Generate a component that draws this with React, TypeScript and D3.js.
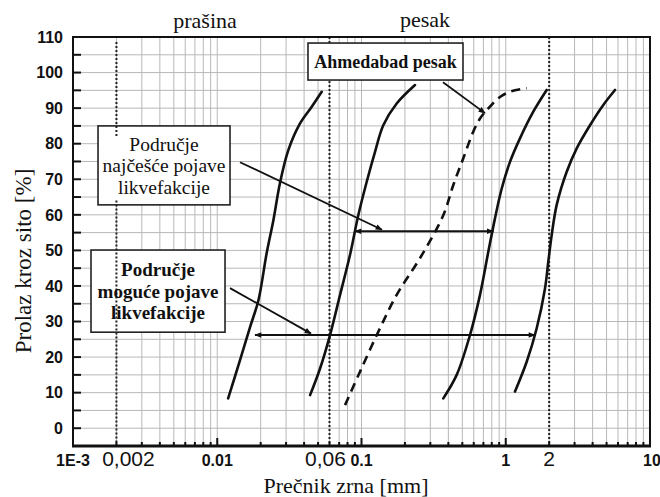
import React from "react";
import * as d3 from "d3";

// grain size curves (mm) and passing (%)
const c1Size = [0.0119, 0.0144, 0.0169, 0.0193, 0.022, 0.0245, 0.0272, 0.0311, 0.0375, 0.0452, 0.053];
const c1Pass = [8.4, 19.2, 28.5, 36.0, 49.2, 58.5, 68.9, 78.2, 85.7, 90.4, 94.6];

const c2Size = [0.044, 0.0516, 0.0605, 0.071, 0.0832, 0.095, 0.1087, 0.1241, 0.1416, 0.1754, 0.2349];
const c2Pass = [9.3, 16.8, 26.2, 37.5, 48.7, 59.9, 69.3, 77.7, 85.2, 91.3, 96.5];

const c3Size = [0.369, 0.457, 0.565, 0.663, 0.757, 0.842, 0.938, 1.07, 1.255, 1.552, 1.922];
const c3Pass = [8.4, 15.0, 26.2, 37.5, 49.6, 59.0, 67.4, 74.9, 81.5, 89.0, 95.1];

const c4Size = [1.159, 1.397, 1.639, 1.871, 1.972, 2.082, 2.255, 2.646, 3.104, 3.838, 4.746, 5.721];
const c4Pass = [10.3, 18.7, 28.1, 39.3, 46.8, 54.3, 62.8, 72.1, 78.7, 85.2, 90.9, 95.1];

// Ahmedabad sand (dashed)
const ahmSize = [0.0769, 0.0976, 0.1307, 0.1754, 0.2543, 0.369, 0.4329, 0.5078, 0.5957, 0.6633, 0.7568, 0.888, 1.07, 1.397];
const ahmPass = [6.5, 15.9, 27.1, 37.5, 47.8, 59.9, 68.4, 75.9, 83.4, 87.1, 89.9, 92.8, 94.6, 95.6];

const yTickValues = [0, 10, 20, 30, 40, 50, 60, 70, 80, 90, 100, 110];
const xLabelValues = [0.001, 0.002, 0.01, 0.06, 0.1, 1, 2, 10];
const xLabelTexts = ["1E-3", "0,002", "0.01", "0,06", "0.1", "1", "2", "10"];
const xLabelPlain = [false, true, false, true, false, false, true, false];
const xLabelShift = [0, 12, 0, -4, 0, 0, 0, 2];

const boundarySizes = [0.06, 2];

export default function App() {
  const W = 660;
  const H = 497;
  const x = d3.scaleLog().domain([0.001, 10]).range([73, 650]);
  const y = d3.scaleLinear().domain([-5, 110]).range([446, 37]);

  const line = d3
    .line<[number, number]>()
    .x((d) => x(d[0]))
    .y((d) => y(d[1]))
    .curve(d3.curveCatmullRom.alpha(0.5));

  const curves = [
    [c1Size, c1Pass],
    [c2Size, c2Pass],
    [c3Size, c3Pass],
    [c4Size, c4Pass],
  ].map(([s, p]) => line(s.map((v, i) => [v, p[i]] as [number, number])) as string);
  const ahmPath = line(ahmSize.map((v, i) => [v, ahmPass[i]] as [number, number])) as string;

  // grid
  const decades = [0.001, 0.01, 0.1, 1];
  const vGrid: number[] = [];
  decades.forEach((d) => d3.range(1, 10).forEach((k) => vGrid.push(d * k)));
  vGrid.push(10);
  const hGrid = d3.range(0, 110, 5);

  const serif = "'Liberation Serif', 'Times New Roman', serif";
  const sans = "'Liberation Sans', Arial, sans-serif";

  const box = (x0: number, x1: number, y0: number, y1: number) => ({
    x: x(x0),
    y: y(y0),
    w: x(x1) - x(x0),
    h: y(y1) - y(y0),
  });

  const bAhm = box(0.04256, 0.5054, 108.3, 97.9);
  const b1 = box(0.001491, 0.01226, 85.0, 62.8);
  const b2 = box(0.001333, 0.01132, 50.1, 27.0);

  const arrow = "url(#ah)";

  return (
    <svg
      width={W}
      height={H}
      style={{ position: "absolute", left: 0, top: 0, background: "#fff" }}
    >
      <defs>
        <marker
          id="ah"
          viewBox="0 0 10 10"
          refX="9"
          refY="5"
          markerWidth="9"
          markerHeight="7"
          markerUnits="userSpaceOnUse"
          orient="auto-start-reverse"
        >
          <path d="M0,1 L10,5 L0,9 z" fill="#111" />
        </marker>
      </defs>
      <rect width={W} height={H} fill="#fff" />

      {/* grid */}
      <g stroke="#b8b8b8" strokeWidth={1}>
        {vGrid.map((v, i) => (
          <line key={"v" + i} x1={x(v)} x2={x(v)} y1={y(110)} y2={y(-5)} />
        ))}
        {hGrid.map((v, i) => (
          <line key={"h" + i} x1={x(0.001)} x2={x(10)} y1={y(v)} y2={y(v)} />
        ))}
      </g>

      {/* soil class boundaries */}
      <g stroke="#222" strokeWidth={2} strokeDasharray="2,2">
        {boundarySizes.map((v) => (
          <line key={v} x1={x(v)} x2={x(v)} y1={y(110)} y2={y(-5)} />
        ))}
      </g>

      {/* curves */}
      <g fill="none" stroke="#111" strokeWidth={2.6} strokeLinecap="round">
        {curves.map((d, i) => (
          <path key={i} d={d} />
        ))}
        <path d={ahmPath} strokeDasharray="9,6" strokeLinecap="butt" />
      </g>

      {/* annotation boxes */}
      <g fill="#fff" stroke="#222" strokeWidth={1.6}>
        <rect x={bAhm.x} y={bAhm.y} width={bAhm.w} height={bAhm.h} />
        <rect x={b1.x} y={b1.y} width={b1.w} height={b1.h} />
        <rect x={b2.x} y={b2.y} width={b2.w} height={b2.h} />
      </g>

      <g stroke="#222" strokeWidth={2} strokeDasharray="2,2">
        <line x1={x(0.002)} x2={x(0.002)} y1={y(108.6)} y2={y(82)} />
        <line x1={x(0.002)} x2={x(0.002)} y1={y(64)} y2={y(-5)} />
      </g>

      <text
        x={bAhm.x + bAhm.w / 2}
        y={bAhm.y + bAhm.h / 2}
        dy="0.35em"
        textAnchor="middle"
        fontFamily={serif}
        fontWeight="bold"
        fontSize={18}
        fill="#111"
      >
        Ahmedabad pesak
      </text>
      <g fontFamily={serif} fontSize={19.5} fill="#111" textAnchor="middle">
        {["Područje", "najčešće pojave", "likvefakcije"].map((t, i) => (
          <text key={t} x={b1.x + b1.w / 2} y={b1.y + b1.h / 2 + (i - 1) * 21.5} dy="0.35em">
            {t}
          </text>
        ))}
      </g>
      <g fontFamily={serif} fontSize={19} fontWeight="bold" fill="#111" textAnchor="middle">
        {["Područje", "moguće pojave", "likvefakcije"].map((t, i) => (
          <text key={t} x={b2.x + b2.w / 2} y={b2.y + b2.h / 2 + (i - 1) * 21.5} dy="0.35em">
            {t}
          </text>
        ))}
      </g>

      {/* arrows */}
      <g stroke="#111" strokeWidth={2} fill="none">
        <line x1={x(0.0902)} x2={x(0.82)} y1={y(55.4)} y2={y(55.4)} markerStart={arrow} markerEnd={arrow} />
        <line x1={x(0.01827)} x2={x(1.595)} y1={y(26.2)} y2={y(26.2)} markerStart={arrow} markerEnd={arrow} />
        <line x1={x(0.01438)} x2={x(0.1387)} y1={y(74.8)} y2={y(55.8)} markerEnd={arrow} strokeWidth={1.8} />
        <line x1={x(0.01226)} x2={x(0.0447)} y1={y(39.4)} y2={y(26.6)} markerEnd={arrow} strokeWidth={1.8} />
        <line x1={x(0.3673)} x2={x(0.7178)} y1={y(97.3)} y2={y(88.6)} markerEnd={arrow} strokeWidth={1.8} />
      </g>

      {/* frame */}
      <rect
        x={x(0.001)}
        y={y(110)}
        width={x(10) - x(0.001)}
        height={y(-5) - y(110)}
        fill="none"
        stroke="#111"
        strokeWidth={2}
      />
      <line x1={x(0.001) - 1} x2={x(10) + 1} y1={y(-5)} y2={y(-5)} stroke="#111" strokeWidth={3} />

      {/* y ticks */}
      <g stroke="#111" strokeWidth={2}>
        {d3.range(0, 111, 5).map((v) => (
          <line key={v} x1={x(0.001)} x2={x(0.001) + 8} y1={y(v)} y2={y(v)} />
        ))}
      </g>
      <g fontFamily={sans} fontWeight="bold" fontSize={16} fill="#111" textAnchor="end">
        {yTickValues.map((v) => (
          <text key={v} x={x(0.001) - 10} y={y(v)} dy="0.36em">
            {v}
          </text>
        ))}
      </g>

      {/* x ticks */}
      <g stroke="#111" strokeWidth={2}>
        {vGrid.map((v, i) => {
          const major = Math.abs(Math.log10(v) - Math.round(Math.log10(v))) < 1e-6;
          return <line key={i} x1={x(v)} x2={x(v)} y1={y(-5)} y2={y(-5) - (major ? 8 : 4)} />;
        })}
      </g>
      <g fill="#111" textAnchor="middle">
        {xLabelValues.map((v, i) => (
          <text
            key={v}
            x={x(v) + xLabelShift[i]}
            y={466}
            fontFamily={sans}
            fontWeight={xLabelPlain[i] ? "normal" : "bold"}
            fontSize={xLabelPlain[i] ? 21 : 16}
          >
            {xLabelTexts[i]}
          </text>
        ))}
      </g>

      {/* titles */}
      <g fontFamily={serif} fill="#111" textAnchor="middle">
        <text x={x(0.00823)} y={28} fontSize={22}>
          prašina
        </text>
        <text x={x(0.2755)} y={27} fontSize={22}>
          pesak
        </text>
        <text x={346} y={493} fontSize={22}>
          Prečnik zrna [mm]
        </text>
        <text transform="translate(31,261) rotate(-90)" fontSize={23}>
          Prolaz kroz sito [%]
        </text>
      </g>
    </svg>
  );
}
